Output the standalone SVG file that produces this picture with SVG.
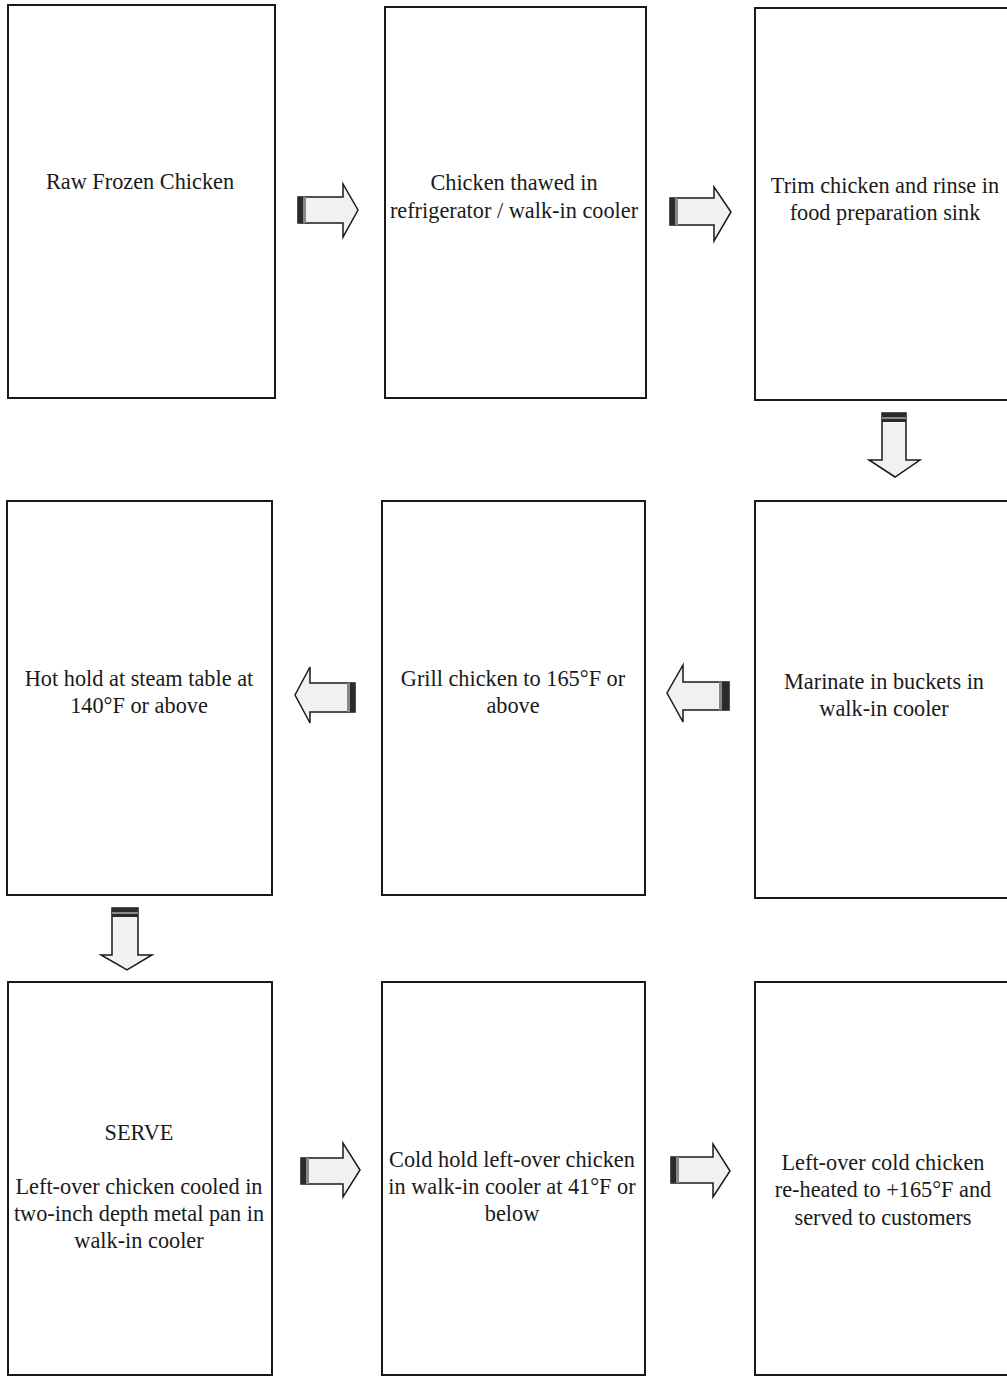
<svg xmlns="http://www.w3.org/2000/svg" width="1007" height="1377" viewBox="0 0 1007 1377">
<style>
.box{fill:#fff;stroke:#1a1a1a;stroke-width:2}
.t{font-family:"Liberation Serif","Times New Roman",serif;font-size:22.3px;fill:#1a1a1a;text-anchor:middle}
.arr{fill:#f1f1f1;stroke:#1a1a1a;stroke-width:1.5;stroke-linejoin:miter}
.stripe{fill:#2a2a2a}
.stripe2{fill:#888}
</style>
<rect width="1007" height="1377" fill="#fff"/>
<g id="n1"><rect class="box" x="8" y="5" width="267" height="393"/><text class="t" x="140" y="189">Raw Frozen Chicken</text></g>
<g id="n2"><rect class="box" x="385" y="7" width="261" height="391"/><text class="t" x="514" y="190">Chicken thawed in</text><text class="t" x="514" y="218">refrigerator / walk-in cooler</text></g>
<g id="n3"><rect class="box" x="755" y="8" width="260" height="392"/><text class="t" x="885" y="193">Trim chicken and rinse in</text><text class="t" x="885" y="220">food preparation sink</text></g>
<g id="n4"><rect class="box" x="7" y="501" width="265" height="394"/><text class="t" x="139" y="686">Hot hold at steam table at</text><text class="t" x="139" y="713">140°F or above</text></g>
<g id="n5"><rect class="box" x="382" y="501" width="263" height="394"/><text class="t" x="513" y="686">Grill chicken to 165°F or</text><text class="t" x="513" y="713">above</text></g>
<g id="n6"><rect class="box" x="755" y="501" width="260" height="397"/><text class="t" x="884" y="689">Marinate in buckets in</text><text class="t" x="884" y="716">walk-in cooler</text></g>
<g id="n7"><rect class="box" x="8" y="982" width="264" height="393"/><text class="t" x="139" y="1140">SERVE</text><text class="t" x="139" y="1194">Left-over chicken cooled in</text><text class="t" x="139" y="1221">two-inch depth metal pan in</text><text class="t" x="139" y="1248">walk-in cooler</text></g>
<g id="n8"><rect class="box" x="382" y="982" width="263" height="393"/><text class="t" x="512" y="1167">Cold hold left-over chicken</text><text class="t" x="512" y="1194">in walk-in cooler at 41°F or</text><text class="t" x="512" y="1221">below</text></g>
<g id="n9"><rect class="box" x="755" y="982" width="260" height="393"/><text class="t" x="883" y="1170">Left-over cold chicken</text><text class="t" x="883" y="1197">re-heated to +165°F and</text><text class="t" x="883" y="1225">served to customers</text></g>
<g id="connectors">
<g id="a1"><polygon class="arr" points="298,197 343,197 343,184 358,210 343,237 343,223 298,223"/><rect class="stripe" x="298" y="197" width="5" height="26"/><rect class="stripe2" x="303" y="197" width="3" height="26"/></g>
<g id="a2"><polygon class="arr" points="670,198 714,198 714,187 731,212 714,241 714,225 670,225"/><rect class="stripe" x="670" y="198" width="5" height="27"/><rect class="stripe2" x="675" y="198" width="3" height="27"/></g>
<g id="a3"><polygon class="arr" points="882,413 906,413 906,460 920,460 895,477 869,460 882,460"/><rect class="stripe" x="882" y="413" width="24" height="4"/><rect class="stripe2" x="882" y="417" width="24" height="2"/><rect class="stripe" x="882" y="419" width="24" height="3"/></g>
<g id="a4"><polygon class="arr" points="355,683 310,683 310,667 295,695 310,723 310,712 355,712"/><rect class="stripe" x="350" y="683" width="5" height="29"/><rect class="stripe2" x="347" y="683" width="3" height="29"/></g>
<g id="a5"><polygon class="arr" points="729,682 683,682 683,665 667,693 683,722 683,710 729,710"/><rect class="stripe" x="722" y="682" width="7" height="28"/><rect class="stripe2" x="719" y="682" width="3" height="28"/></g>
<g id="a6"><polygon class="arr" points="112,908 138,908 138,955 152,955 127,970 101,955 112,955"/><rect class="stripe" x="112" y="908" width="26" height="4"/><rect class="stripe2" x="112" y="912" width="26" height="2"/><rect class="stripe" x="112" y="914" width="26" height="3"/></g>
<g id="a7"><polygon class="arr" points="301,1158 343,1158 343,1143 360,1170 343,1197 343,1184 301,1184"/><rect class="stripe" x="301" y="1158" width="5" height="26"/><rect class="stripe2" x="306" y="1158" width="3" height="26"/></g>
<g id="a8"><polygon class="arr" points="671,1157 713,1157 713,1144 730,1171 713,1197 713,1183 671,1183"/><rect class="stripe" x="671" y="1157" width="5" height="26"/><rect class="stripe2" x="676" y="1157" width="3" height="26"/></g>
</g>
</svg>
